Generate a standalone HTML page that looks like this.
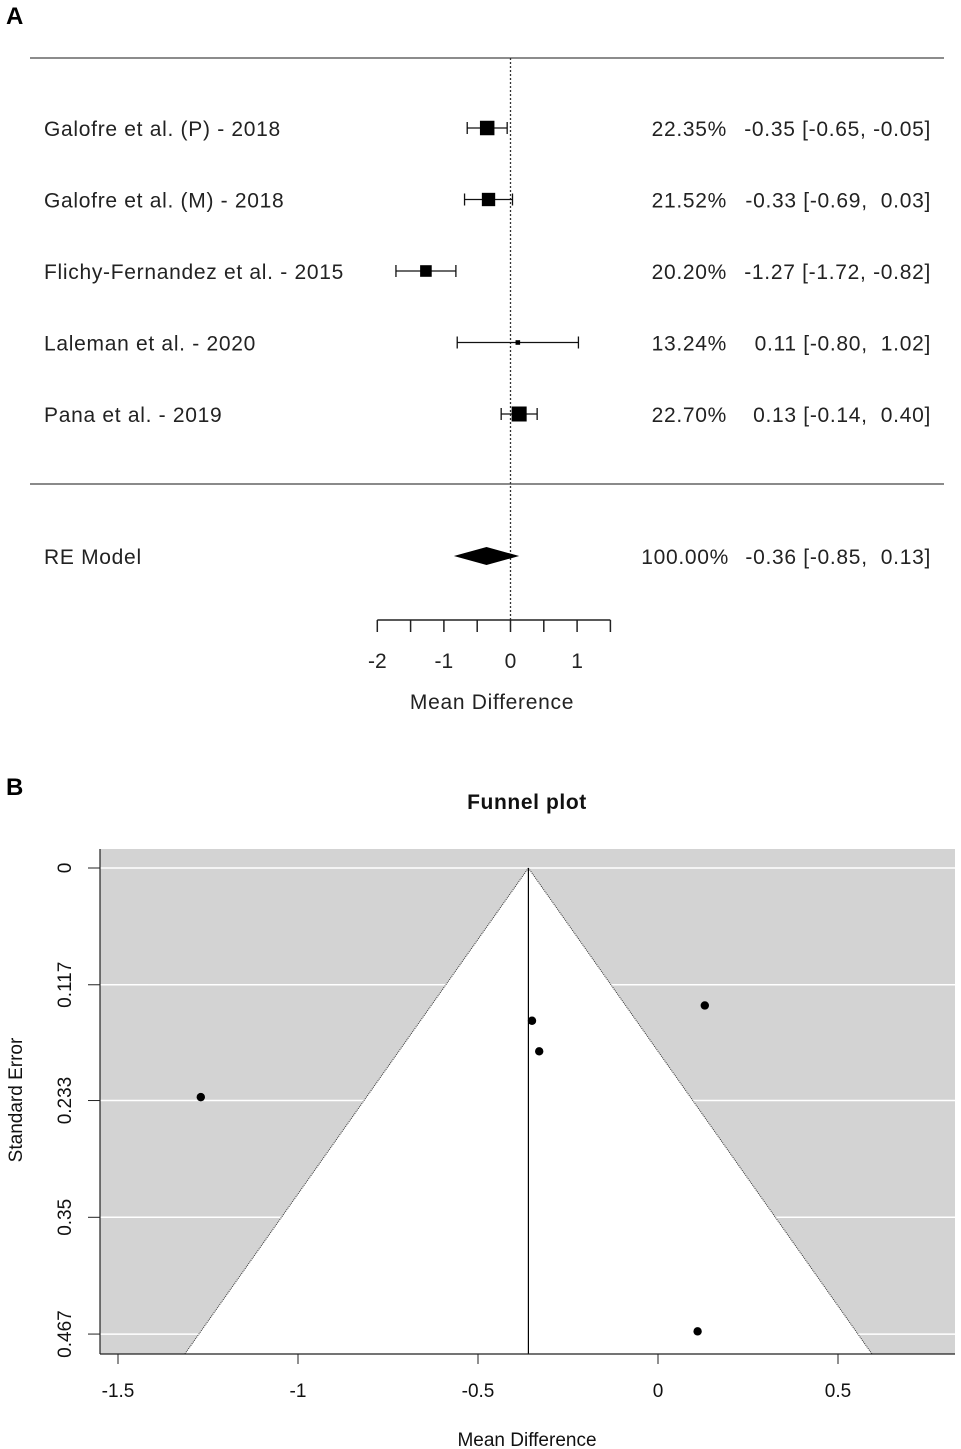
<!DOCTYPE html>
<html><head><meta charset="utf-8"><style>
html,body{margin:0;padding:0;background:#fff;}
svg{display:block;font-family:"Liberation Sans",Arial,sans-serif;}
.ft{letter-spacing:0.7px;white-space:pre;}
</style></head><body>
<svg id="fig" width="961" height="1449" viewBox="0 0 961 1449">
<text x="6" y="24" font-size="24" font-weight="bold">A</text>
<text x="6" y="795" font-size="24" font-weight="bold">B</text>
<g id="forest"></g>
<g id="funnel"></g>
</svg>
<script>
const studies = ["Galofre et al. (P) - 2018","Galofre et al. (M) - 2018","Flichy-Fernandez et al. - 2015","Laleman et al. - 2020","Pana et al. - 2019"];
const estimates = [-0.35,-0.33,-1.27,0.11,0.13];
const ciLower = [-0.65,-0.69,-1.72,-0.80,-0.14];
const ciUpper = [-0.05,0.03,-0.82,1.02,0.40];
const weights = [22.35,21.52,20.20,13.24,22.70];
const reModel = {est:-0.36, lo:-0.85, hi:0.13, w:100};
const forestTicks = [-2,-1.5,-1,-0.5,0,0.5,1,1.5];
const forestTickLabels = [-2,-1,0,1];
const funnelXTicks = [-1.5,-1,-0.5,0,0.5];
const funnelYTicks = [0,0.117,0.233,0.35,0.467];

const NS="http://www.w3.org/2000/svg";
function mk(parent,tag,attrs,text){const e=document.createElementNS(NS,tag);for(const k in attrs)e.setAttribute(k,attrs[k]);if(text!==undefined)e.textContent=text;parent.appendChild(e);return e;}
function f2(v){return v.toFixed(2);}
function ci(lo,hi){return '['+f2(lo)+', '+(hi<0?'':' ')+f2(hi)+']';}

// ---------- Forest ----------
const F=document.getElementById('forest');
const fx=v=>510.5+v*66.6;
const rowY=i=>128+i*71.5;
mk(F,'line',{x1:30,x2:944,y1:58,y2:58,stroke:'#666','stroke-width':1.5,});
mk(F,'line',{x1:30,x2:944,y1:484,y2:484,stroke:'#444','stroke-width':1.3,});
mk(F,'line',{x1:fx(0),x2:fx(0),y1:58,y2:620,stroke:'#333','stroke-width':1.3,'stroke-dasharray':'2,2',});
const maxW=Math.max(...weights);
studies.forEach((s,i)=>{
  const y=rowY(i);
  const g=mk(F,'g',{});
  
  
  mk(g,'text',{x:44,y:y+8,'font-size':21,fill:'#222','class':'ft'},s);
  mk(g,'line',{x1:fx(ciLower[i]),x2:fx(ciUpper[i]),y1:y,y2:y,stroke:'#111','stroke-width':1.3});
  mk(g,'line',{x1:fx(ciLower[i]),x2:fx(ciLower[i]),y1:y-6,y2:y+6,stroke:'#111','stroke-width':1.3});
  mk(g,'line',{x1:fx(ciUpper[i]),x2:fx(ciUpper[i]),y1:y-6,y2:y+6,stroke:'#111','stroke-width':1.3});
  const sz=Math.max(4,15*Math.pow(weights[i]/maxW,2.2));
  const r=mk(g,'rect',{x:fx(estimates[i])-sz/2,y:y-sz/2,width:sz,height:sz,fill:'#000'});
  
  
  mk(g,'text',{x:727,y:y+8,'font-size':21,fill:'#222','text-anchor':'end','class':'ft'},f2(weights[i])+'%');
  mk(g,'text',{x:931,y:y+8,'font-size':21,fill:'#222','text-anchor':'end','class':'ft'},f2(estimates[i])+' '+ci(ciLower[i],ciUpper[i]));
});
{
  const y=556;
  const g=mk(F,'g',{});
  
  
  mk(g,'text',{x:44,y:y+8,'font-size':21,fill:'#222','class':'ft'},'RE Model');
  const d=mk(g,'polygon',{points:`${fx(reModel.lo)},${y} ${fx(reModel.est)},${y-9} ${fx(reModel.hi)},${y} ${fx(reModel.est)},${y+9}`,fill:'#000'});
  
  
  mk(g,'text',{x:729,y:y+8,'font-size':21,fill:'#222','text-anchor':'end','class':'ft'},f2(reModel.w)+'%');
  mk(g,'text',{x:931,y:y+8,'font-size':21,fill:'#222','text-anchor':'end','class':'ft'},f2(reModel.est)+' '+ci(reModel.lo,reModel.hi));
}
const ax=mk(F,'g',{});


mk(ax,'line',{x1:fx(forestTicks[0]),x2:fx(forestTicks[forestTicks.length-1]),y1:620,y2:620,stroke:'#222','stroke-width':1.5});
forestTicks.forEach(t=>mk(ax,'line',{x1:fx(t),x2:fx(t),y1:620,y2:632,stroke:'#222','stroke-width':1.5}));
forestTickLabels.forEach(t=>mk(ax,'text',{x:fx(t),y:668,'font-size':21,fill:'#222','text-anchor':'middle'},String(t)));
mk(ax,'text',{x:492,y:709,'font-size':21,fill:'#222','text-anchor':'middle','class':'ft'},'Mean Difference');

// ---------- Funnel ----------
const U=document.getElementById('funnel');
const ux=v=>658+v*360;
const uy=v=>868+v*998;
const L=100,R=955,T=849,B=1354;
mk(U,'text',{x:527,y:809,'font-size':21,'font-weight':'bold','text-anchor':'middle',fill:'#111','letter-spacing':'0.6',},'Funnel plot');
mk(U,'rect',{x:L,y:T,width:R-L,height:B-T,fill:'#d3d3d3',});
funnelYTicks.forEach(t=>mk(U,'line',{x1:L,x2:R,y1:uy(t),y2:uy(t),stroke:'#fff','stroke-width':1.5}));
const seB=(B-868)/998;
const c=reModel.est;
const tri=mk(U,'polygon',{points:`${ux(c)},${uy(0)} ${ux(c-1.96*seB)},${B} ${ux(c+1.96*seB)},${B}`,fill:'#fff'});


mk(U,'line',{x1:ux(c),y1:uy(0),x2:ux(c-1.96*seB),y2:B,stroke:'#333','stroke-width':1,'stroke-dasharray':'1,1'});
mk(U,'line',{x1:ux(c),y1:uy(0),x2:ux(c+1.96*seB),y2:B,stroke:'#333','stroke-width':1,'stroke-dasharray':'1,1'});
mk(U,'line',{x1:ux(c),x2:ux(c),y1:uy(0),y2:B,stroke:'#000','stroke-width':1.2,});
studies.forEach((s,i)=>{
  const se=(ciUpper[i]-ciLower[i])/3.92;
  const p=mk(U,'circle',{cx:ux(estimates[i]),cy:uy(se),r:4.2,fill:'#000'});
  
  
});
mk(U,'line',{x1:L,x2:L,y1:T,y2:B,stroke:'#222','stroke-width':1.2});
mk(U,'line',{x1:L,x2:R,y1:B,y2:B,stroke:'#222','stroke-width':1.2});
const xa=mk(U,'g',{});


funnelXTicks.forEach(t=>{mk(xa,'line',{x1:ux(t),x2:ux(t),y1:B,y2:B+10,stroke:'#222'});mk(xa,'text',{x:ux(t),y:1397,'font-size':19,'text-anchor':'middle',fill:'#111'},String(t));});
mk(xa,'text',{x:527,y:1446,'font-size':19,'text-anchor':'middle',fill:'#111'},'Mean Difference');
const ya=mk(U,'g',{});


funnelYTicks.forEach(t=>{mk(ya,'line',{x1:L-12,x2:L,y1:uy(t),y2:uy(t),stroke:'#222'});mk(ya,'text',{x:0,y:0,'font-size':19,'text-anchor':'middle',fill:'#111',transform:`translate(71,${uy(t)}) rotate(-90)`},String(t));});
mk(ya,'text',{x:0,y:0,'font-size':19,'text-anchor':'middle',fill:'#111',transform:'translate(22,1100) rotate(-90)'},'Standard Error');
</script>
</body></html>
